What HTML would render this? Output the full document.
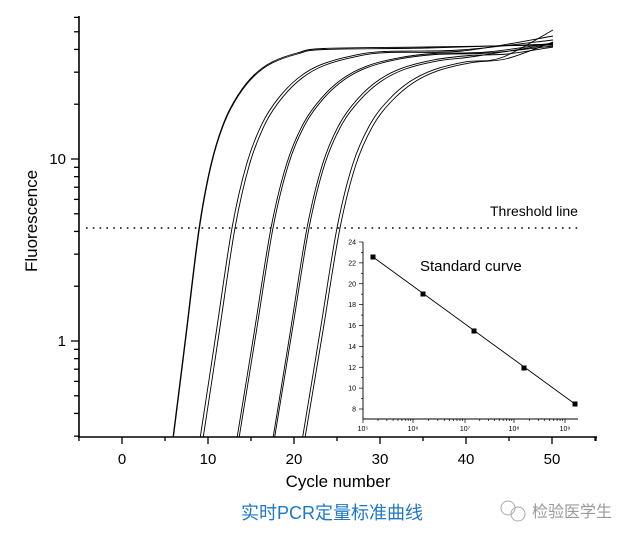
<!DOCTYPE html>
<html><head><meta charset="utf-8"><style>
body{margin:0;background:#fff;width:626px;height:539px;overflow:hidden}
svg{display:block}
text{font-family:"Liberation Sans","Noto Sans CJK SC",sans-serif}
</style></head><body>
<svg id="s" width="626" height="539" xmlns="http://www.w3.org/2000/svg">
<g stroke="#000" stroke-width="1.6" fill="none">
<line x1="79" y1="16" x2="79" y2="437.8"/>
<line x1="78.2" y1="437" x2="597" y2="437"/>
</g>
<g id="ticks" stroke="#000" stroke-width="1.3"></g>
<g id="curves" stroke="#000" stroke-width="0.9" fill="none"></g>
<line x1="86" y1="228" x2="580" y2="228" stroke="#000" stroke-width="1.6" stroke-dasharray="1.6,5.2"/>
<text x="490" y="216" font-size="14">Threshold line</text>
<rect x="340" y="236" width="250" height="190" fill="#fff"/>
<g stroke="#000" stroke-width="0.9" fill="none">
<line x1="363" y1="242" x2="363" y2="419.5"/>
<line x1="362.5" y1="419" x2="578" y2="419"/>
<line x1="373" y1="257" x2="575" y2="404"/>
</g>
<g id="inset" stroke="#000" stroke-width="0.7"></g>
<g fill="#000">
<rect x="370.5" y="254.5" width="5" height="5"/><rect x="420.5" y="291.5" width="5" height="5"/><rect x="471.5" y="328.5" width="5" height="5"/><rect x="521.5" y="365.5" width="5" height="5"/><rect x="572.5" y="401.5" width="5" height="5"/>
</g>
<text x="420" y="271" font-size="15">Standard curve</text>
<g font-size="15" text-anchor="middle">
<text x="122" y="464">0</text><text x="208" y="464">10</text><text x="294" y="464">20</text><text x="380" y="464">30</text><text x="466" y="464">40</text><text x="552" y="464">50</text>
</g>
<text x="66" y="164" font-size="15" text-anchor="end">10</text>
<text x="66" y="346" font-size="15" text-anchor="end">1</text>
<text x="338" y="487" font-size="17" text-anchor="middle">Cycle number</text>
<text transform="translate(37,221) rotate(-90)" font-size="17" text-anchor="middle">Fluorescence</text>
<text x="332" y="519" font-size="18" fill="#1e78c8" text-anchor="middle">实时PCR定量标准曲线</text>
<g stroke="#aaa" fill="none" stroke-width="1"><circle cx="508" cy="508" r="7"/><circle cx="518" cy="514" r="7"/></g>
<text x="532" y="517" font-size="16" fill="#999">检验医学生</text>
</svg>
<script>
var NS="http://www.w3.org/2000/svg";
function el(p,t,a){var e=document.createElementNS(NS,t);for(var k in a)e.setAttribute(k,a[k]);document.getElementById(p).appendChild(e);return e;}
function ly(v){return 341-182*Math.log10(v);}
[0.3,0.4,0.5,0.6,0.7,0.8,0.9,1,2,3,4,5,6,7,8,9,10,20,30,40,50,60].forEach(function(v){var y=ly(v);var maj=(v==1||v==10);el("ticks","line",{x1:maj?71:74,y1:y,x2:79,y2:y});});
for(var c=-5;c<=55;c+=5){var x=122+8.6*c;if(x<79||x>597)continue;el("ticks","line",{x1:x,y1:437,x2:x,y2:c%10==0?444:441});}
el("ticks","line",{x1:596,y1:437,x2:596,y2:441});
var base=[[-26,437],[-13,333],[0,228],[12,164],[25,122],[39,95],[55,75],[73,62],[98,53],[125,48.5]];
var cs=[[199,1,0,45],[199.5,1,1,44],[232,1.22,3,40],[235,1.22,4,36],[271,1.3,5,43],[273,1.3,6,46],[307,1.3,7,47],[309,1.32,8,44],[337,1.32,9,30],[340,1.34,10,42]];
function path(pts){var d="M"+pts[0][0]+","+pts[0][1];for(var i=0;i<pts.length-1;i++){var p0=pts[Math.max(0,i-1)],p1=pts[i],p2=pts[i+1],p3=pts[Math.min(pts.length-1,i+2)];
d+=" C"+(p1[0]+(p2[0]-p0[0])/6).toFixed(1)+","+(p1[1]+(p2[1]-p0[1])/6).toFixed(1)+" "+(p2[0]-(p3[0]-p1[0])/6).toFixed(1)+","+(p2[1]-(p3[1]-p1[1])/6).toFixed(1)+" "+p2[0].toFixed(1)+","+p2[1].toFixed(1);}return d;}
cs.forEach(function(c){var pts=base.map(function(b){var y=b[1];y+=c[2]*Math.max(0,Math.min(1,(150-y)/100));return [c[0]+b[0]*c[1],y];});
var last=pts[pts.length-1];
if(last[0]<470){pts.push([last[0]+(553-last[0])*0.45,last[1]-1.5]);}
pts.push([553,c[3]]);
el("curves","path",{d:path(pts)});});
for(var v=8;v<=24;v+=1){var y=409-(v-8)*(167/16);el("inset","line",{x1:v%2==0?359:361,y1:y,x2:363,y2:y});
if(v%2==0){var t=el("inset","text",{x:356,y:y+2.5,"font-size":"7","text-anchor":"end",stroke:"none"});t.textContent=v;}}
var xs=[363,413,465,514,565];
for(var i=0;i<5;i++){el("inset","line",{x1:xs[i],y1:419,x2:xs[i],y2:423});
var tx=el("inset","text",{x:xs[i],y:431,"font-size":"7","text-anchor":"middle",stroke:"none"});tx.textContent="10"+String.fromCharCode([0x2075,0x2076,0x2077,0x2078,0x2079][i]);
if(i<4)for(var m=2;m<10;m++){var x=xs[i]+(xs[i+1]-xs[i])*Math.log10(m);el("inset","line",{x1:x,y1:419,x2:x,y2:421});}}
</script>
</body></html>
